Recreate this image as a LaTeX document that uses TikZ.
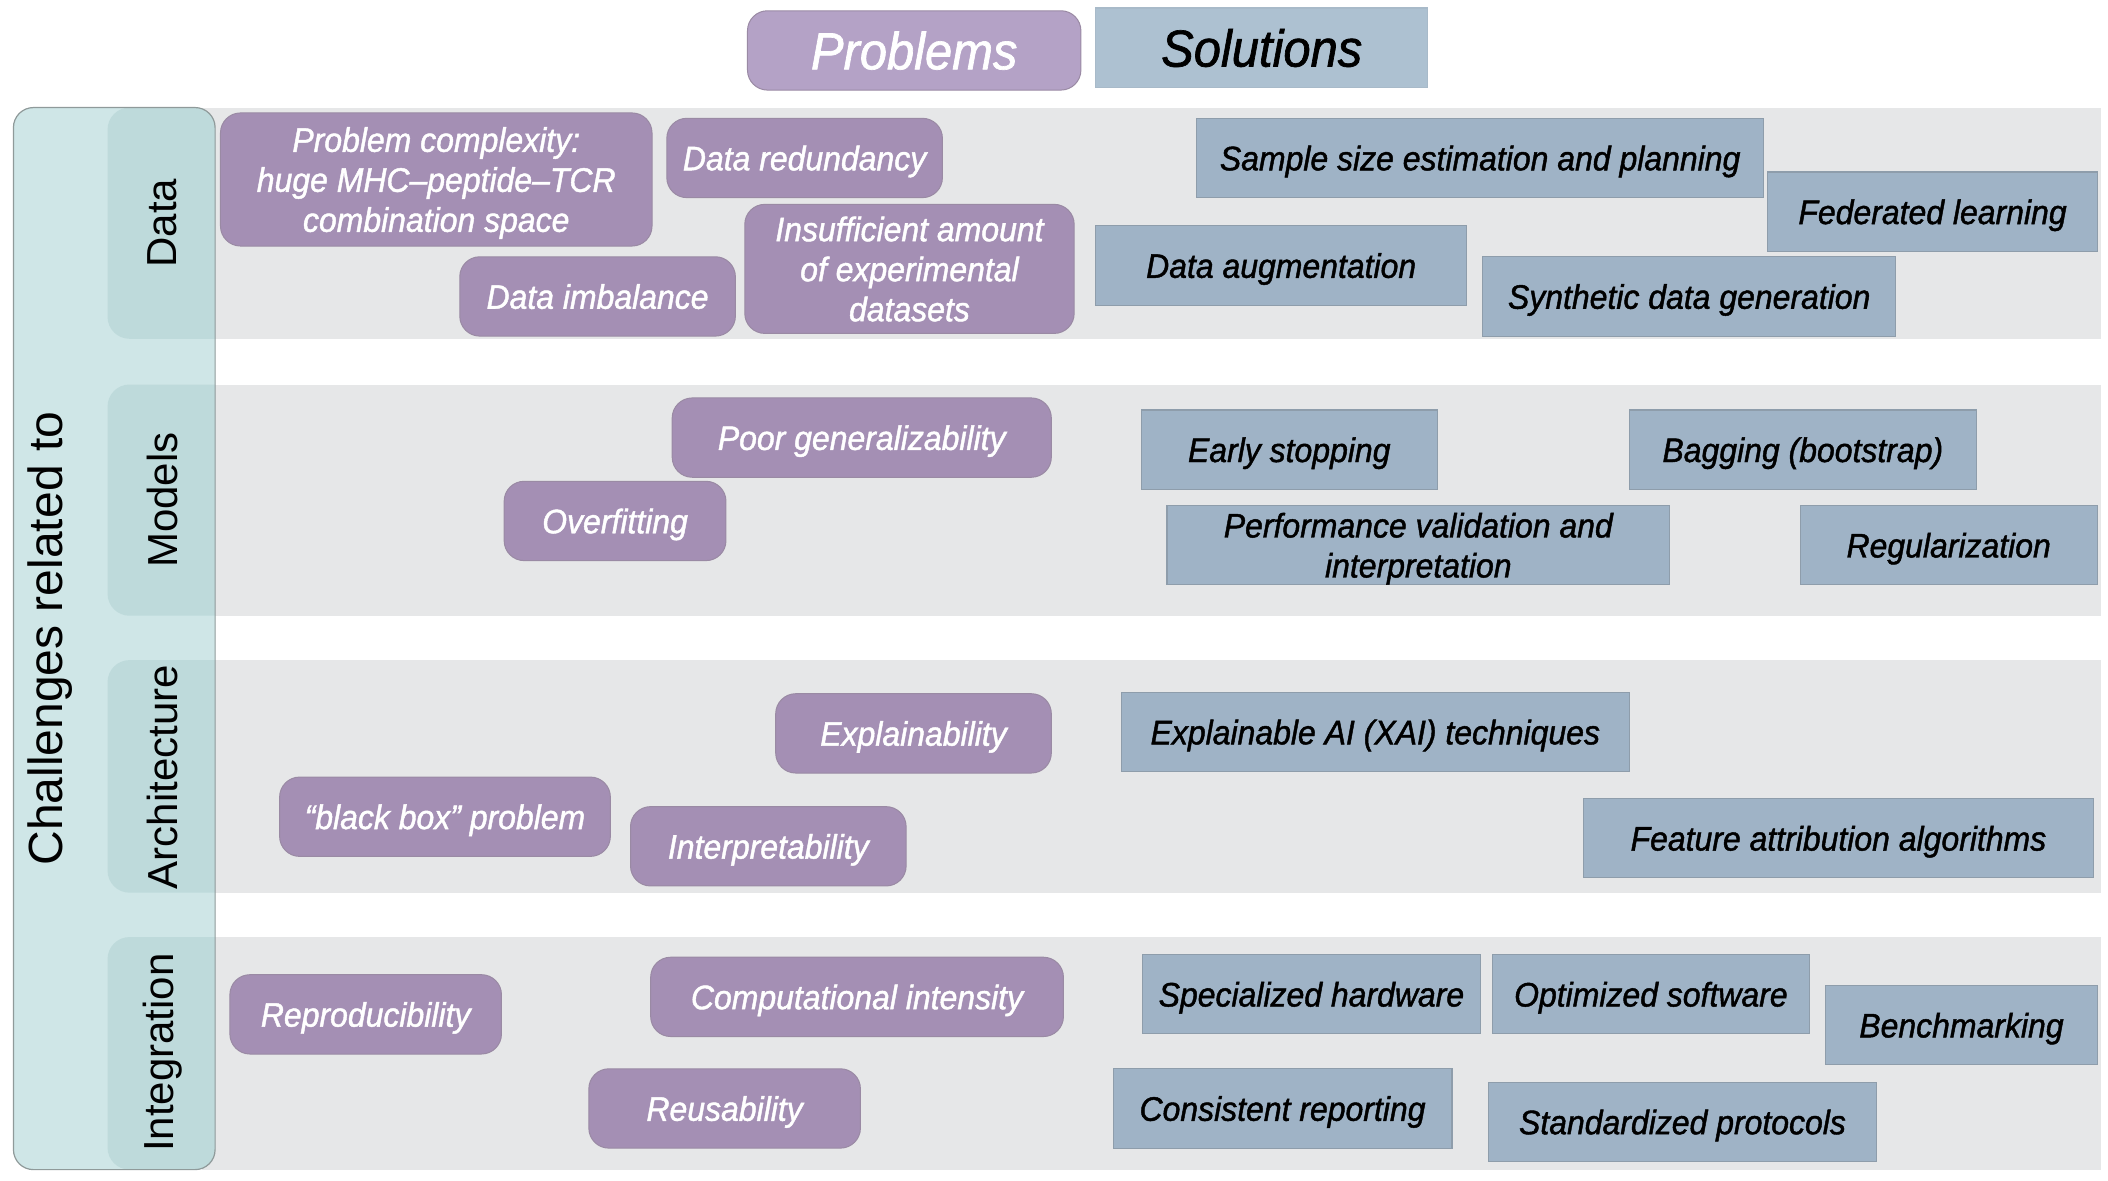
\documentclass[tikz,border=0pt]{standalone}
\usepackage{fontspec}
\setmainfont{Liberation Sans}
\newfontfamily\medfont[FakeBold=1.3,FakeStretch=0.94]{Liberation Sans}
\definecolor{probfill}{HTML}{A48FB4}
\definecolor{probtitle}{HTML}{B4A2C6}
\definecolor{probline}{HTML}{9A8AA4}
\definecolor{solfill}{HTML}{9FB3C6}
\definecolor{soltitle}{HTML}{ADC1D1}
\definecolor{solline}{HTML}{8E9DAB}
\definecolor{band}{HTML}{E6E7E8}
\definecolor{tealout}{HTML}{CFE6E7}
\definecolor{tealtab}{HTML}{BEDADB}
\definecolor{outline}{HTML}{8F9A9A}
\newcommand\placebox[7]{\node[#1, minimum width={(#5-#3)*1.3444pt}, minimum height={(#6-#4)*1.3444pt}] (#2) at ({(#3+#5)/2},{(#4+#6)/2}) {#7};}
\begin{document}
\begin{tikzpicture}[x=1.3444pt,y=-1.3444pt,
  prob/.style={fill=probfill, draw=probline, line width=1pt, rounded corners=20pt, text=white, font=\medfont\fontsize{34}{40}\selectfont\itshape, align=center, inner sep=0pt, text depth=0pt},
  sol/.style={fill=solfill, draw=solline, line width=1.2pt, text=black, font=\medfont\fontsize{34}{40}\selectfont\itshape, align=center, inner sep=0pt, text depth=0pt},
  probhead/.style={prob, fill=probtitle, font=\medfont\fontsize{52}{60}\selectfont\itshape},
  solhead/.style={sol, fill=soltitle, draw=soltitle!90!gray, font=\medfont\fontsize{52}{60}\selectfont\itshape},
  rowlabel/.style={rotate=90, font=\fontsize{42}{50}\selectfont, text=black},
  biglabel/.style={rotate=90, font=\fontsize{48}{58}\selectfont, text=black}]
\useasboundingbox (0,0) rectangle (1568,878);
% row bands
\fill[band] (150,80) rectangle (1563,252);
\fill[band] (150,286) rectangle (1563,458);
\fill[band] (150,491) rectangle (1563,664);
\fill[band] (150,697) rectangle (1563,870);
% outer teal box
\fill[tealout, rounded corners=20pt] (10,80) rectangle (160,870);
\begin{scope}
\clip[rounded corners=20pt] (10,80) rectangle (160,870);
\foreach \ya/\yb in {80/252, 286/458, 491/664, 697/870}{
  \fill[tealtab, rounded corners=22pt] (80,\ya) rectangle (200,\yb);
}
\end{scope}
\draw[outline, line width=1.2pt, rounded corners=20pt] (10,80) rectangle (160,870);
% labels
\node[biglabel] (challenges) at (37,475) {Challenges related to};
\node[rowlabel] (ldata) at (121,166) {Data};
\node[rowlabel] (lmodels) at (121,372) {Models};
\node[rowlabel] (larch) at (121,578) {Architecture};
\node[rowlabel] (linteg) at (121,783) {Integration};
% headers
\placebox{probhead}{hprob}{556}{8}{804}{67}{Problems}
\placebox{solhead}{hsol}{815}{6}{1062}{65}{Solutions}
% Data problems
\placebox{prob}{p1}{164}{84}{485}{183}{Problem complexity:\\huge MHC–peptide–TCR\\combination space}
\placebox{prob}{p2}{496}{88}{701}{147}{Data redundancy}
\placebox{prob}{p3}{342}{191}{547}{250}{Data imbalance}
\placebox{prob}{p4}{554}{152}{799}{248}{Insufficient amount\\of experimental\\datasets}
% Models problems
\placebox{prob}{p5}{500}{296}{782}{355}{Poor generalizability}
\placebox{prob}{p6}{375}{358}{540}{417}{Overfitting}
% Architecture problems
\placebox{prob}{p7}{577}{516}{782}{575}{Explainability}
\placebox{prob}{p8}{208}{578}{454}{637}{“black box” problem}
\placebox{prob}{p9}{469}{600}{674}{659}{Interpretability}
% Integration problems
\placebox{prob}{p10}{171}{725}{373}{784}{Reproducibility}
\placebox{prob}{p11}{484}{712}{791}{771}{Computational intensity}
\placebox{prob}{p12}{438}{795}{640}{854}{Reusability}
% Data solutions
\placebox{sol}{s1}{890}{88}{1312}{147}{Sample size estimation and planning}
\placebox{sol}{s2}{1315}{128}{1560}{187}{Federated learning}
\placebox{sol}{s3}{815}{168}{1091}{227}{Data augmentation}
\placebox{sol}{s4}{1103}{191}{1410}{250}{Synthetic data generation}
% Models solutions
\placebox{sol}{s5}{849}{305}{1069}{364}{Early stopping}
\placebox{sol}{s6}{1212}{305}{1470}{364}{Bagging (bootstrap)}
\placebox{sol}{s7}{868}{376}{1242}{435}{Performance validation and\\interpretation}
\placebox{sol}{s8}{1339}{376}{1560}{435}{Regularization}
% Architecture solutions
\placebox{sol}{s9}{834}{515}{1212}{574}{Explainable AI (XAI) techniques}
\placebox{sol}{s10}{1178}{594}{1557}{653}{Feature attribution algorithms}
% Integration solutions
\placebox{sol}{s11}{850}{710}{1101}{769}{Specialized hardware}
\placebox{sol}{s12}{1110}{710}{1346}{769}{Optimized software}
\placebox{sol}{s13}{1358}{733}{1560}{792}{Benchmarking}
\placebox{sol}{s14}{828}{795}{1080}{854}{Consistent reporting}
\placebox{sol}{s15}{1107}{805}{1396}{864}{Standardized protocols}
\end{tikzpicture}
\end{document}
